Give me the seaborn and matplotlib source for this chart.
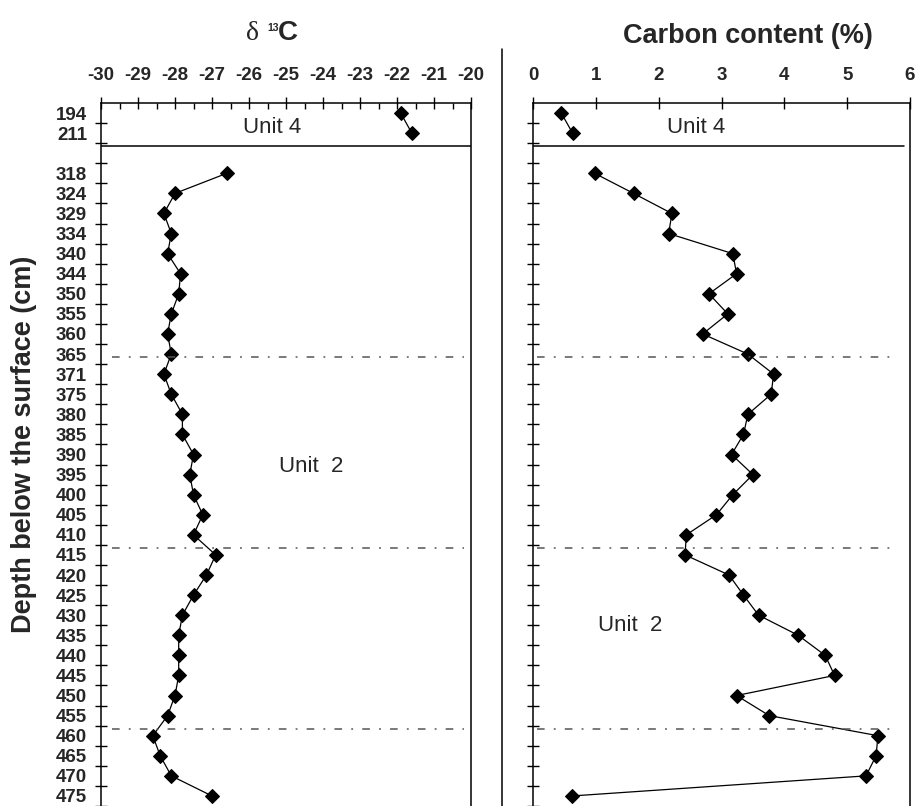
import numpy as np
import pandas as pd
import matplotlib
matplotlib.use("Agg")
import matplotlib.pyplot as plt
import seaborn as sns
from matplotlib.ticker import FixedLocator, MultipleLocator
from matplotlib.lines import Line2D

# ---------------- data ----------------
unit4_depths = [194, 211]
unit4_d13c = [-21.9, -21.6]
unit4_carbon = [0.45, 0.63]

unit2_depths = [318, 324, 329, 334, 340, 344, 350, 355, 360, 365, 371, 375, 380,
                385, 390, 395, 400, 405, 410, 415, 420, 425, 430, 435, 440, 445,
                450, 455, 460, 465, 470, 475]
unit2_d13c = [-26.6, -28.0, -28.3, -28.1, -28.2, -27.85, -27.9, -28.1, -28.2, -28.1,
              -28.3, -28.1, -27.8, -27.8, -27.5, -27.6, -27.5, -27.25, -27.5, -26.9,
              -27.15, -27.5, -27.8, -27.9, -27.9, -27.9, -28.0, -28.2, -28.6, -28.4,
              -28.1, -27.0]
unit2_carbon = [0.98, 1.60, 2.21, 2.16, 3.18, 3.24, 2.80, 3.10, 2.70, 3.42, 3.83,
                3.79, 3.42, 3.35, 3.16, 3.50, 3.18, 2.92, 2.44, 2.42, 3.12, 3.35,
                3.59, 4.22, 4.65, 4.80, 3.24, 3.76, 5.49, 5.46, 5.30, 0.62]

d13c_ticks = list(range(-30, -19))
carbon_ticks = list(range(0, 7))

# depth slots (one empty slot between the units)
slot_labels = [str(d) for d in unit4_depths] + [""] + [str(d) for d in unit2_depths]
unit_boundary = 1.65          # Unit 4 / Unit 2 separator (slot coordinate)
dashdot_levels = [12.15, 21.65, 30.65]

df4 = pd.DataFrame({"pos": [slot_labels.index(str(d)) for d in unit4_depths],
                    "d13c": unit4_d13c, "carbon": unit4_carbon})
df2 = pd.DataFrame({"pos": [slot_labels.index(str(d)) for d in unit2_depths],
                    "d13c": unit2_d13c, "carbon": unit2_carbon})

# ---------------- style ----------------
sns.set_theme(style="white")
plt.rcParams['font.family'] = ['Liberation Sans', 'DejaVu Sans']
plt.rcParams['axes.unicode_minus'] = False

W, H = 916, 806
fig = plt.figure(figsize=(W / 100, H / 100), dpi=100)
fig.patch.set_facecolor("white")


def fx(px):
    return px / W


def fy(py):
    return 1 - py / H


top_px, bot_px = 103, 806
axL = fig.add_axes([fx(101), fy(bot_px), 370 / W, (bot_px - top_px) / H])
axR = fig.add_axes([fx(533), fy(bot_px), 377 / W, (bot_px - top_px) / H])

line_kw = dict(orient="y", sort=False, estimator=None, marker="D", markersize=7,
               color="black", linewidth=0.9, markeredgecolor="black")

for ax, col in ((axL, "d13c"), (axR, "carbon")):
    sns.lineplot(data=df4, x=col, y="pos", ax=ax, **line_kw)
    sns.lineplot(data=df2, x=col, y="pos", ax=ax, **line_kw)
    ax.set_xlabel("")
    ax.set_ylabel("")
    ax.set_facecolor("white")
    for s in ax.spines.values():
        s.set_color("black")
        s.set_linewidth(1.1)
    ax.spines["bottom"].set_visible(False)
    ax.set_ylim(len(slot_labels) - 0.5, -0.5)
    ax.xaxis.tick_top()
    ax.grid(False)
    ax.yaxis.set_minor_locator(FixedLocator(np.arange(0.5, len(slot_labels), 1.0)))
    ax.tick_params(axis="y", which="minor", direction="inout", length=9, width=1,
                   color="black", left=True)

# left panel
axL.set_xlim(-30, -20)
axL.set_xticks(d13c_ticks)
axL.set_xticklabels([str(t) for t in d13c_ticks], fontweight="bold")
axL.xaxis.set_minor_locator(MultipleLocator(0.5))
axL.tick_params(axis="x", which="major", direction="inout", length=9, width=1,
                labelsize=13.5, pad=9, top=True, bottom=False, color="black")
axL.tick_params(axis="x", which="minor", direction="in", length=4.5, width=1,
                top=True, bottom=False, color="black")
axL.set_yticks(range(len(slot_labels)))
axL.set_yticklabels(slot_labels, fontweight="bold")
axL.tick_params(axis="y", which="major", length=0, pad=10, labelsize=13.5, left=True)

# right panel
axR.set_xlim(0, 6)
axR.set_xticks(carbon_ticks)
axR.set_xticklabels([str(t) for t in carbon_ticks], fontweight="bold")
axR.tick_params(axis="x", which="major", direction="inout", length=9, width=1,
                labelsize=13.5, pad=9, top=True, bottom=False, color="black")
axR.set_yticks([])

# separators
axL.axhline(unit_boundary, color="black", lw=1.1)
axR.axhline(unit_boundary, xmin=0, xmax=0.985, color="black", lw=1.1)
dd = (0, (5, 6, 1.2, 6))
for lvl in dashdot_levels:
    axL.axhline(lvl, xmin=0.03, xmax=0.98, color="#555555", lw=1.1, linestyle=dd)
    axR.axhline(lvl, xmin=0.01, xmax=0.965, color="#555555", lw=1.1, linestyle=dd)

# unit labels
axL.text(-25.38, 0.72, "Unit 4", ha="center", va="center", fontsize=16)
axR.text(2.6, 0.72, "Unit 4", ha="center", va="center", fontsize=16)
axL.text(-24.32, 17.6, "Unit  2", ha="center", va="center", fontsize=16)
axR.text(1.54, 25.5, "Unit  2", ha="center", va="center", fontsize=16)

# divider line between panels
fig.add_artist(Line2D([fx(502), fx(502)], [fy(49), 0], color="black", lw=1.1))

# titles
fig.text(fx(246), fy(40), "δ", family=["Liberation Serif", "DejaVu Serif"],
         fontsize=20, ha="left", va="baseline")
fig.text(fx(267), fy(31), "13", fontsize=7.5, fontweight="bold", ha="left", va="baseline")
fig.text(fx(278), fy(40), "C", fontsize=20, fontweight="bold", ha="left", va="baseline")
fig.text(fx(748), fy(36), "Carbon content (%)", fontsize=19.5, fontweight="bold",
         ha="center", va="center")
fig.text(fx(24), fy(444), "Depth below the surface (cm)", fontsize=19.5,
         fontweight="bold", rotation=90, ha="center", va="center")

fig.savefig("out.png", dpi=100, facecolor="white")
